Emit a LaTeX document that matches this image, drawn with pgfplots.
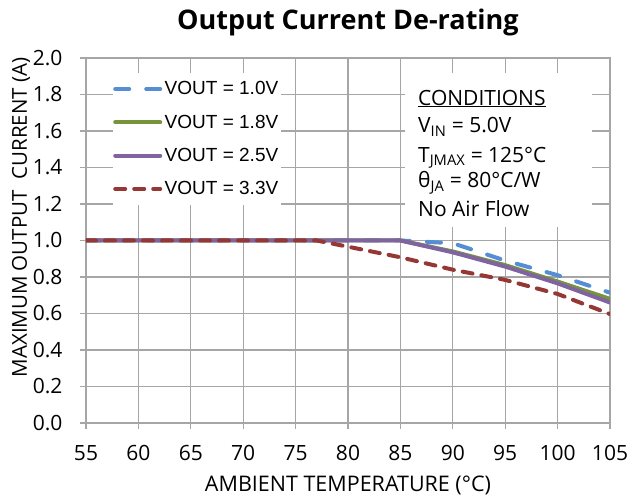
\documentclass[border=0pt]{standalone}
\usepackage{fontspec}
\setmainfont{Open Sans}
\newfontfamily\legfont{Liberation Sans}
\usepackage{pgfplots}
\pgfplotsset{compat=1.18}
\definecolor{vBlue}{RGB}{85,142,213}
\definecolor{vGreen}{RGB}{119,147,60}
\definecolor{vPurple}{RGB}{128,100,162}
\definecolor{vRed}{RGB}{149,55,53}
\definecolor{gridgray}{RGB}{166,166,166}

\begin{document}
\begin{tikzpicture}
\begin{axis}[
    scale only axis,
    width=524pt, height=365pt,
    xmin=55, xmax=105, ymin=0, ymax=2,
    xtick={55,60,...,105},
    ytick={0,0.2,0.4,0.6,0.8,1.0,1.2,1.4,1.6,1.8,2.0},
    grid=major,
    grid style={gridgray, line width=1.3pt},
    axis line style={gridgray, line width=1.3pt},
    tick style={gridgray, line width=1.3pt},
    tick pos=left, tick align=outside, major tick length=6pt,
    /pgf/number format/assume math mode=true,
    ticklabel style={font=\fontsize{21}{24}\selectfont, text=black},
    xticklabel style={yshift=-13pt},
    yticklabel style={xshift=-14pt, /pgf/number format/.cd, fixed, fixed zerofill, precision=1},
    xlabel={AMBIENT TEMPERATURE (°C)},
    xlabel style={font=\fontsize{21.5}{24}\selectfont, at={(axis description cs:0.5,0)}, anchor=base, yshift=-69pt},
    ylabel={MAXIMUM OUTPUT\ \ CURRENT (A)},
    ylabel style={font=\fontsize{20.5}{24}\selectfont, at={(axis description cs:-0.124,0.563)}, anchor=center},
    title={Output Current De-rating},
    title style={font=\bfseries\fontsize{27}{30}\selectfont, at={(axis description cs:0.5,1)}, anchor=base, yshift=22pt},
    legend cell align=left,
    legend style={at={(axis cs:57.58,1.918)}, anchor=north west, draw=none, fill=white,
        font=\legfont\fontsize{19}{22}\selectfont, row sep=13.5pt,
        inner xsep=0pt, inner ysep=6pt, nodes={inner sep=2.5pt}},
    legend image code/.code={\draw[#1] (2pt,0pt) -- (47pt,0pt);},
]
\fill[white] (axis cs:85.44,1.918) rectangle (axis cs:103.28,1.074);

\addplot[vBlue, line width=4pt, line cap=round, dash pattern=on 14pt off 17pt] coordinates {
    (55,1.0) (85,1.0) (90,0.985) (95,0.89) (100,0.81) (105,0.714)
};
\addlegendentry{VOUT = 1.0V}
\addplot[vGreen, line width=4pt, line cap=round] coordinates {
    (55,1.0) (85,1.0) (90,0.94) (95,0.865) (100,0.775) (105,0.68)
};
\addlegendentry{VOUT = 1.8V}
\addplot[vPurple, line width=4pt, line cap=round] coordinates {
    (55,1.0) (85,1.0) (90,0.935) (95,0.857) (100,0.765) (105,0.66)
};
\addlegendentry{VOUT = 2.5V}
\addplot[vRed, line width=4pt, line cap=round, dash pattern=on 10pt off 9pt] coordinates {
    (55,1.0) (77,1.0) (80,0.966) (85,0.908) (90,0.84) (95,0.784) (100,0.707) (105,0.597)
};
\addlegendentry{VOUT = 3.3V}

\begin{scope}[every node/.style={anchor=base west, inner sep=0pt, font=\fontsize{21}{28}\selectfont}]
\node at (axis cs:86.68,1.742) {\underline{CONDITIONS}};
\node at (axis cs:86.68,1.589) {V\textsubscript{IN} = 5.0V};
\node at (axis cs:86.68,1.430) {T\textsubscript{JMAX} = 125°C};
\node at (axis cs:86.68,1.288) {θ\textsubscript{JA} = 80°C/W};
\node at (axis cs:86.68,1.129) {No Air Flow};
\end{scope}
\end{axis}
\pgfresetboundingbox
\path (-86pt,-79pt) rectangle (546pt,423pt);
\end{tikzpicture}
\end{document}
